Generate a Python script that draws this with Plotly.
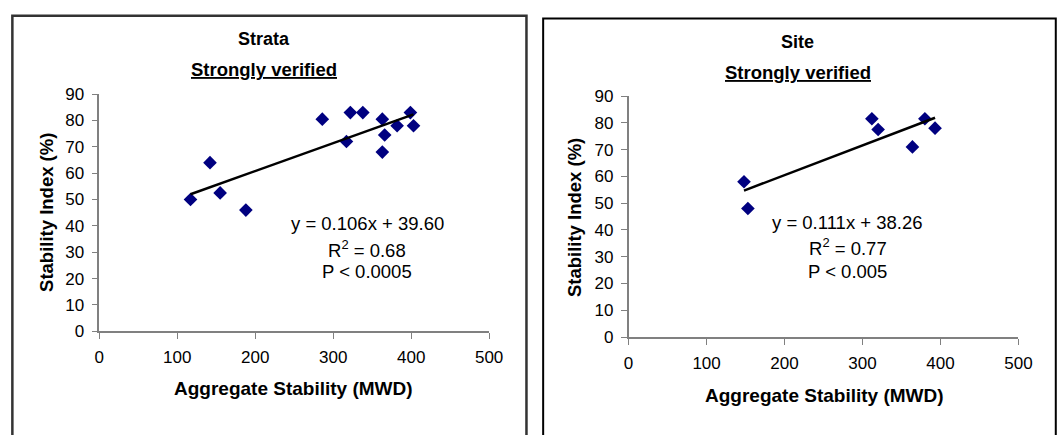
import plotly.graph_objects as go

# ---- data ----
strata_x = [117, 142, 155, 188, 286, 317, 322, 338, 363, 366, 363, 382, 399, 403]
strata_y = [50, 64, 52.5, 46, 80.5, 72, 83, 83, 80.5, 74.5, 68, 78, 83, 78]
strata_slope, strata_intercept = 0.106, 39.60
strata_eq = ["y = 0.106x + 39.60", "R<sup>2</sup> = 0.68", "P < 0.0005"]

site_x = [148, 153, 312, 320, 364, 380, 393]
site_y = [58, 48, 81.5, 77.5, 71, 81.5, 78]
site_slope, site_intercept = 0.111, 38.26
site_eq = ["y = 0.111x + 38.26", "R<sup>2</sup> = 0.77", "P < 0.005"]

panel_titles = ["Strata", "Site"]
subtitle = "Strongly verified"
x_title = "Aggregate Stability (MWD)"
y_title = "Stability Index (%)"

W, H = 1058, 435
def px(x):
    return x / W
def py(y):
    return 1 - y / H

FONT = "Liberation Sans, Arial, sans-serif"
NAVY = "#000080"
AXC = "#808080"

fig = go.Figure()

panels = [
    dict(x=strata_x, y=strata_y, m=strata_slope, b=strata_intercept, eq=strata_eq,
         xa="x", ya="y", xd=[px(96), px(493)], yd=[py(337), py(89)],
         cx=264, t1=31, t2=63, ex=369, ey=[224, 251, 275], xty=397, xtx=294, ytx=42, yty=213,
         box=(7.5, 7, 531), bw=2.5, bc="#333333"),
    dict(x=site_x, y=site_y, m=site_slope, b=site_intercept, eq=site_eq,
         xa="x2", ya="y2", xd=[px(635), px(1032)], yd=[py(343), py(91)],
         cx=807, t1=34, t2=66, ex=858, ey=[223, 249, 274], xty=404, xtx=834, ytx=580, yty=218,
         box=(548, 10, 1070), bw=2, bc="#000000"),
]

def ann(text, x, y, size, angle=0):
    return dict(text=text, x=px(x), y=py(y), xref="paper", yref="paper",
                xanchor="center", yanchor="middle", showarrow=False, textangle=angle,
                font=dict(family=FONT, size=size, color="black"))

annotations = []
shapes = []
for i, p in enumerate(panels):
    fig.add_trace(go.Scatter(x=p["x"], y=p["y"], mode="markers",
                             marker=dict(symbol="diamond", size=10.5, color=NAVY),
                             xaxis=p["xa"], yaxis=p["ya"], showlegend=False))
    xs = [min(p["x"]), max(p["x"])]
    ys = [p["m"] * v + p["b"] for v in xs]
    fig.add_trace(go.Scatter(x=xs, y=ys, mode="lines",
                             line=dict(color="black", width=2.5),
                             xaxis=p["xa"], yaxis=p["ya"], showlegend=False))
    suffix = "" if i == 0 else "2"
    axis_common = dict(showline=True, linecolor=AXC, linewidth=1.5, ticks="outside",
                       ticklen=6, tickcolor=AXC, showgrid=False, zeroline=False,
                       ticklabelstandoff=4,
                       tickfont=dict(family=FONT, size=17, color="black"), fixedrange=True)
    fig.update_layout(**{
        "xaxis" + suffix: dict(domain=p["xd"], range=[0, 500], dtick=100, tick0=0,
                               anchor="y" + suffix, **axis_common),
        "yaxis" + suffix: dict(domain=p["yd"], range=[0, 90], dtick=10, tick0=0,
                               anchor="x" + suffix, **axis_common),
    })
    annotations.append(ann("<b>" + panel_titles[i] + "</b>", p["cx"], p["t1"], 18))
    annotations.append(ann("<b><u>" + subtitle + "</u></b>", p["cx"], p["t2"], 18.5))
    annotations.append(ann("<b>" + x_title + "</b>", p["xtx"], p["xty"], 19))
    annotations.append(ann("<b>" + y_title + "</b>", p["ytx"], p["yty"], 18.5, angle=-90))
    for line, yy in zip(p["eq"], p["ey"]):
        annotations.append(ann(line, p["ex"], yy, 18.5))
    bx0, by0, bx1 = p["box"]
    shapes.append(dict(type="rect", xref="paper", yref="paper",
                       x0=px(bx0), x1=px(bx1), y0=py(by0), y1=-0.2,
                       line=dict(color=p["bc"], width=p["bw"]), fillcolor="rgba(0,0,0,0)"))

fig.update_layout(width=W, height=H, margin=dict(l=0, r=0, t=0, b=0),
                  paper_bgcolor="white", plot_bgcolor="white",
                  annotations=annotations, shapes=shapes, showlegend=False)

fig.write_html("out.html", config={"displayModeBar": False})
